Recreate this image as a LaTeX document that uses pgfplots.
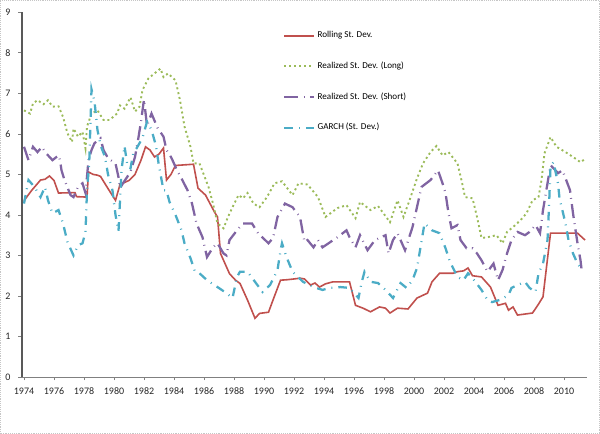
\documentclass[border=0pt]{standalone}
\usepackage{pgfplots}
\pgfplotsset{compat=1.18}
\usepackage{fontspec}
\setmainfont{Carlito}
\definecolor{xred}{HTML}{C0504D}
\definecolor{xgreen}{HTML}{9BBB59}
\definecolor{xpurple}{HTML}{8064A2}
\definecolor{xcyan}{HTML}{4BACC6}
\begin{document}
\begin{tikzpicture}[x=1pt,y=1pt]
% chart area border
\draw[gray!45, densely dotted] (0.4,0.4) rectangle (449.6,325.1);
\begin{axis}[
    at={(16.5pt,42.75pt)}, anchor=south west,
    scale only axis,
    width=423.75pt, height=273.4pt,
    xmin=1973.85, xmax=2011.55,
    ymin=0, ymax=9,
    axis x line*=bottom, axis y line*=left,
    x axis line style={-, gray, line width=0.8pt},
    y axis line style={-, gray!70!black, line width=1.8pt},
    xtick={1974,1976,...,2010},
    minor x tick num=7,
    ytick={0,1,...,9},
    tick align=outside,
    major tick length=2.5pt, minor tick length=2.5pt,
    tick style={gray, line width=0.5pt},
    ticklabel style={font=\fontsize{7.5}{9}\selectfont, text=black!85},
    /pgf/number format/assume math mode=true,
    /pgf/number format/set thousands separator={},
    xticklabel style={yshift=-2pt},
    yticklabel style={xshift=-2.5pt},
    legend style={at={(0.455,0.962)}, anchor=north west, draw=none, fill=none,
        font=\fontsize{6.8}{8}\selectfont, row sep=12.5pt,
        /tikz/every even column/.append style={column sep=1pt}},
    legend cell align=left,
    legend image code/.code={\draw[#1] (0pt,0pt) -- (22pt,0pt);},
]
% Rolling St. Dev.
\addplot[xred, line width=1.2pt] coordinates {
(1974.0,4.35)(1974.5,4.6)(1975.1,4.86)(1975.4,4.88)(1975.7,4.96)(1976.0,4.85)
(1976.3,4.54)(1977.4,4.55)(1977.5,4.45)(1978.2,4.44)(1978.3,5.06)(1978.6,5.0)
(1978.9,4.98)(1979.1,4.95)(1979.6,4.65)(1980.1,4.36)(1980.4,4.75)(1981.0,4.85)
(1981.4,5.0)(1981.8,5.35)(1982.1,5.68)(1982.4,5.6)(1982.7,5.43)(1983.0,5.5)
(1983.3,5.65)(1983.5,4.86)(1983.8,5.0)(1984.1,5.22)(1985.3,5.25)(1985.6,4.66)
(1986.1,4.49)(1986.4,4.28)(1986.7,4.07)(1986.9,3.95)(1987.1,3.05)(1987.4,2.8)
(1987.7,2.55)(1988.1,2.39)(1988.4,2.31)(1988.9,1.9)(1989.4,1.45)(1989.7,1.57)
(1990.3,1.6)(1990.6,1.9)(1991.1,2.39)(1991.5,2.4)(1992.0,2.42)(1992.4,2.44)
(1992.7,2.42)(1993.1,2.27)(1993.4,2.32)(1993.7,2.22)(1994.1,2.3)(1994.6,2.35)
(1995.7,2.35)(1996.1,1.77)(1996.6,1.7)(1997.1,1.61)(1997.7,1.73)(1998.1,1.7)
(1998.4,1.58)(1998.9,1.7)(1999.6,1.68)(2000.2,1.95)(2000.9,2.07)(2001.2,2.35)
(2001.7,2.56)(2002.6,2.56)(2002.9,2.6)(2003.3,2.62)(2003.6,2.69)(2003.9,2.5)
(2004.5,2.47)(2005.1,2.22)(2005.6,1.77)(2006.1,1.82)(2006.3,1.65)(2006.6,1.73)
(2006.9,1.53)(2007.9,1.58)(2008.3,1.8)(2008.6,1.98)(2009.1,3.55)(2009.9,3.55)
(2010.9,3.55)(2011.4,3.38)
};
\addlegendentry{Rolling St. Dev.}
% Realized St. Dev. (Long)
\addplot[xgreen, line width=1.4pt, dash pattern=on 1.5pt off 2.2pt] coordinates {
(1974.0,6.58)(1974.2,6.54)(1974.4,6.5)(1974.6,6.75)(1974.9,6.83)(1975.3,6.73)
(1975.6,6.83)(1975.9,6.67)(1976.3,6.68)(1976.6,6.42)(1976.9,6.01)(1977.2,5.8)
(1977.3,6.13)(1977.6,5.93)(1977.9,6.05)(1978.1,5.64)(1978.2,6.18)(1978.5,6.5)
(1978.9,6.58)(1979.3,6.34)(1979.7,6.34)(1980.2,6.5)(1980.4,6.7)(1980.7,6.62)
(1981.1,6.9)(1981.4,6.55)(1981.7,6.67)(1981.9,7.08)(1982.3,7.37)(1982.7,7.49)
(1983.1,7.61)(1983.3,7.4)(1983.6,7.49)(1984.1,7.32)(1984.4,6.83)(1984.7,6.18)
(1985.1,5.68)(1985.3,5.27)(1985.7,5.27)(1986.3,4.69)(1986.6,4.28)(1986.9,3.79)
(1987.3,3.67)(1987.6,3.95)(1987.9,4.19)(1988.3,4.49)(1988.6,4.41)(1988.9,4.54)
(1989.3,4.28)(1989.7,4.19)(1990.2,4.44)(1990.7,4.78)(1991.2,4.83)(1991.9,4.49)
(1992.3,4.78)(1992.9,4.75)(1993.6,4.44)(1994.1,3.95)(1994.9,4.17)(1995.5,4.24)
(1996.1,3.92)(1996.4,4.32)(1997.1,4.12)(1997.6,4.22)(1998.4,3.82)(1998.9,4.36)
(1999.3,3.95)(1999.7,4.36)(2000.2,4.9)(2000.6,5.27)(2001.1,5.55)(2001.5,5.7)
(2001.9,5.47)(2002.3,5.55)(2002.9,5.27)(2003.2,4.8)(2003.4,4.44)(2003.9,4.41)
(2004.2,3.95)(2004.5,3.43)(2004.9,3.45)(2005.5,3.5)(2005.9,3.3)(2006.2,3.58)
(2006.6,3.7)(2007.1,3.87)(2007.5,4.04)(2007.9,4.36)(2008.3,4.44)(2008.5,4.86)
(2008.7,5.52)(2009.1,5.92)(2009.5,5.68)(2010.1,5.55)(2010.6,5.43)(2011.1,5.3)
(2011.4,5.38)
};
\addlegendentry{Realized St. Dev. (Long)}
% Realized St. Dev. (Short)
\addplot[xpurple, line width=1.7pt, dash pattern=on 10.5pt off 4pt on 0.6pt off 4pt] coordinates {
(1974.0,5.68)(1974.3,5.35)(1974.6,5.68)(1974.9,5.55)(1975.2,5.68)(1975.4,5.55)
(1975.9,5.35)(1976.3,5.47)(1976.4,5.35)(1976.5,5.1)(1976.7,4.86)(1977.1,4.49)
(1977.3,4.44)(1977.6,4.69)(1977.9,4.78)(1978.1,4.54)(1978.3,5.35)(1978.5,5.6)
(1978.7,5.77)(1979.1,5.89)(1979.3,5.6)(1979.6,5.4)(1980.1,5.27)(1980.3,4.93)
(1980.4,4.66)(1980.6,4.78)(1981.1,5.06)(1981.4,5.43)(1981.6,5.84)(1981.8,6.3)
(1982.0,6.85)(1982.2,6.2)(1982.5,6.5)(1982.9,6.15)(1983.3,5.93)(1983.5,5.6)
(1983.7,5.5)(1983.9,5.35)(1984.2,5.1)(1984.5,4.9)(1984.9,4.61)(1985.2,4.28)
(1985.5,3.79)(1985.9,3.45)(1986.2,2.96)(1986.6,3.2)(1986.9,3.3)(1987.3,3.05)
(1987.5,3.0)(1987.7,3.38)(1988.2,3.62)(1988.6,3.79)(1989.2,3.79)(1989.6,3.55)
(1990.3,3.3)(1990.6,3.43)(1990.9,3.95)(1991.4,4.28)(1991.9,4.19)(1992.4,3.95)
(1992.7,3.33)(1992.9,3.38)(1993.3,3.2)(1993.6,3.38)(1993.9,3.2)(1994.3,3.3)
(1994.9,3.45)(1995.5,3.62)(1995.7,3.45)(1996.1,3.2)(1996.4,3.5)(1996.9,3.13)
(1997.4,3.38)(1998.1,3.5)(1998.3,3.05)(1998.6,3.38)(1998.9,3.55)(1999.4,3.13)
(1999.9,3.7)(2000.3,4.36)(2000.5,4.69)(2001.1,4.86)(2001.6,5.1)(2001.9,4.78)
(2002.1,4.54)(2002.3,4.04)(2002.5,3.67)(2002.9,3.75)(2003.1,3.38)(2003.5,3.18)
(2003.9,3.18)(2004.2,3.05)(2004.5,2.88)(2004.9,2.6)(2005.3,2.8)(2005.6,2.39)
(2005.9,2.64)(2006.2,3.05)(2006.5,3.38)(2006.9,3.58)(2007.4,3.5)(2007.7,3.58)
(2008.1,3.75)(2008.4,3.55)(2008.6,4.12)(2008.9,4.78)(2009.1,5.23)(2009.3,5.15)
(2009.6,5.03)(2009.9,5.1)(2010.4,4.61)(2010.6,4.04)(2010.9,3.3)(2011.1,2.88)
(2011.2,2.56)
};
\addlegendentry{Realized St. Dev. (Short)}
% GARCH (St. Dev.)
\addplot[xcyan, line width=1.7pt, dash pattern=on 6.5pt off 4.5pt on 0.7pt off 4.5pt] coordinates {
(1974.0,4.28)(1974.3,4.86)(1974.7,4.69)(1975.1,4.44)(1975.4,4.69)(1975.6,4.36)
(1975.9,4.04)(1976.3,4.12)(1976.6,3.79)(1976.9,3.33)(1977.3,3.0)(1977.6,3.25)
(1977.9,3.3)(1978.1,3.58)(1978.2,4.6)(1978.35,5.3)(1978.5,7.1)(1978.7,6.8)
(1978.9,6.09)(1979.1,5.72)(1979.4,5.43)(1979.6,5.0)(1979.9,4.6)(1980.1,4.0)
(1980.3,3.6)(1980.5,5.1)(1980.7,5.7)(1980.9,5.2)(1981.1,5.15)(1981.3,5.55)
(1981.5,5.64)(1981.9,5.9)(1982.2,6.3)(1982.5,6.1)(1982.8,5.7)(1983.0,5.2)
(1983.3,4.61)(1983.5,4.6)(1983.7,4.32)(1984.1,4.0)(1984.5,3.62)(1984.7,3.3)
(1985.1,2.93)(1985.4,2.6)(1985.7,2.56)(1986.2,2.39)(1986.9,2.22)(1987.5,2.07)
(1987.9,1.95)(1988.2,2.47)(1988.4,2.6)(1988.9,2.6)(1989.4,2.35)(1989.9,2.1)
(1990.4,2.27)(1990.9,2.64)(1991.1,3.13)(1991.2,3.3)(1991.5,2.96)(1991.9,2.6)
(1992.6,2.35)(1993.3,2.22)(1993.9,2.15)(1994.4,2.2)(1995.1,2.22)(1995.7,2.2)
(1996.3,1.95)(1996.5,2.32)(1996.7,2.6)(1997.1,2.35)(1997.6,2.32)(1998.1,2.15)
(1998.6,1.95)(1999.1,2.32)(1999.5,2.2)(1999.9,2.39)(2000.2,2.69)(2000.4,3.13)
(2000.7,3.79)(2001.2,3.62)(2001.7,3.55)(2002.1,3.18)(2002.4,2.84)(2002.9,2.47)
(2003.3,2.39)(2003.6,2.56)(2003.9,2.44)(2004.5,2.15)(2004.9,1.9)(2005.2,1.85)
(2005.7,1.9)(2006.3,2.02)(2006.5,2.2)(2006.9,2.27)(2007.4,2.35)(2007.7,2.2)
(2008.1,2.1)(2008.3,2.56)(2008.6,2.8)(2008.9,3.38)(2009.0,4.2)(2009.1,5.2)
(2009.3,5.3)(2009.6,4.78)(2009.7,4.41)(2010.1,3.79)(2010.3,3.38)(2010.6,3.05)
(2010.9,2.8)(2011.1,2.7)
};
\addlegendentry{GARCH (St. Dev.)}
\end{axis}
\end{tikzpicture}
\end{document}
